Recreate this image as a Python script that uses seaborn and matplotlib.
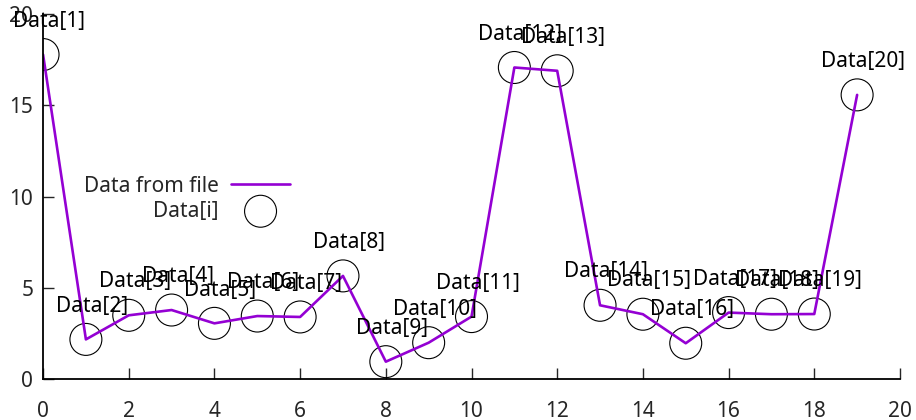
import numpy as np
import pandas as pd
import seaborn as sns
import matplotlib.pyplot as plt

# values
x_vals = list(range(20))
y_vals = [17.78, 2.17, 3.49, 3.78, 3.05, 3.45, 3.40, 5.65, 0.95, 1.99,
          3.42, 17.07, 16.89, 4.04, 3.55, 1.96, 3.64, 3.55, 3.56, 15.57]
point_labels = ["Data[%d]" % (i + 1) for i in x_vals]
x_ticks = list(range(0, 21, 2))
y_ticks = [0, 5, 10, 15, 20]

df = pd.DataFrame({"x": x_vals, "y": y_vals})

sns.set_style("ticks")
plt.rcParams["font.family"] = ["Noto Sans", "DejaVu Sans"]

fig = plt.figure(figsize=(9.16, 4.2), dpi=100)
ax = fig.add_axes([0.047, 0.0976, 0.9355, 0.869])

sns.lineplot(data=df, x="x", y="y", ax=ax, color="#9400D3", linewidth=1.9,
             label="Data from file")
sns.scatterplot(data=df, x="x", y="y", ax=ax, marker="o", s=23 ** 2,
                facecolors="none", edgecolor="black", linewidth=0.8,
                label="Data[i]")

for xi, yi, lab in zip(x_vals, y_vals, point_labels):
    ax.annotate(lab, (xi, yi), xytext=(4.3, 24), textcoords="offset points",
                ha="center", va="center", fontsize=15, color="black")

ax.set_xlim(0, 20)
ax.set_ylim(0, 20)
ax.set_xticks(x_ticks)
ax.set_yticks(y_ticks)
ax.set_xlabel("")
ax.set_ylabel("")
ax.tick_params(direction="in", length=8, width=1, labelsize=15)
ax.tick_params(axis="x", pad=16)
ax.tick_params(axis="y", pad=7)
sns.despine(ax=ax)
for s in ["left", "bottom"]:
    ax.spines[s].set_linewidth(1.3)
    ax.spines[s].set_color("black")

ax.legend(loc="upper right", bbox_to_anchor=(0.30, 0.586), frameon=False,
          markerfirst=False, fontsize=15, handlelength=2.8,
          handletextpad=0.6, labelspacing=0.2, borderpad=0)

fig.savefig("out.png", dpi=100)
